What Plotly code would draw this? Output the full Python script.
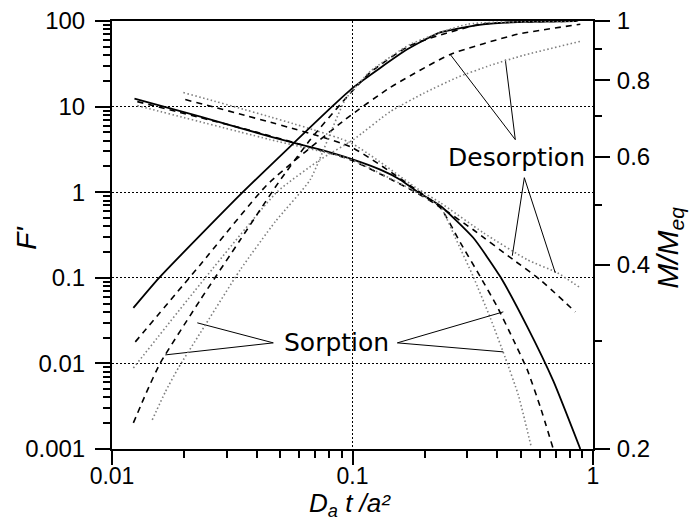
import plotly.graph_objects as go
import numpy as np

# ---- data ----
# F' curves (left axis)
fs_x = [0.0124, 0.0233, 0.0455, 0.0735, 0.0979, 0.1305, 0.158, 0.186, 0.2317, 0.3179, 0.4118, 0.5332, 0.6838, 0.8857]
fs_y = [12.41, 7.64, 4.46, 3.14, 2.465, 1.833, 1.40, 1.013, 0.695, 0.2935, 0.1027, 0.0267, 0.00624, 0.001]

fsd_x = [0.01274, 0.0402, 0.0979, 0.186, 0.2317, 0.2808, 0.3400, 0.4000, 0.4663, 0.5332, 0.6038, 0.6838]
fsd_y = [11.44, 5.0, 2.40, 0.975, 0.659, 0.257, 0.1027, 0.0458, 0.0189, 0.0084, 0.0031, 0.001]

fsp_x = [0.01274, 0.0455, 0.0979, 0.186, 0.2317, 0.2676, 0.3179, 0.3741, 0.4319, 0.489, 0.554]
fsp_y = [10.27, 4.11, 2.43, 0.987, 0.677, 0.2935, 0.1027, 0.0340, 0.0116, 0.00428, 0.00105]

fdd_x = [0.02017, 0.0979, 0.186, 0.2252, 0.3179, 0.4663, 0.6038, 0.8442]
fdd_y = [12.08, 3.40, 1.05, 0.714, 0.364, 0.1624, 0.0947, 0.0400]

fdp_x = [0.0198, 0.0979, 0.186, 0.2317, 0.3499, 0.5332, 0.7106, 0.8857]
fdp_y = [14.58, 3.79, 1.10, 0.754, 0.336, 0.1624, 0.1144, 0.0764]

# M/Meq curves (right axis)
ms_x = [0.01227, 0.01573, 0.0348, 0.0824, 0.1008, 0.169, 0.2317, 0.350, 0.4845, 0.844]
ms_y = [0.340, 0.381, 0.5244, 0.7253, 0.7791, 0.8989, 0.9583, 0.9877, 0.9962, 0.9995]

mdd_x = [0.0125, 0.0233, 0.0442, 0.0934, 0.1436, 0.2551, 0.4845, 0.8857]
mdd_y = [0.2992, 0.4000, 0.5405, 0.6907, 0.7791, 0.8820, 0.9511, 0.9877]

mdp_x = [0.01227, 0.02443, 0.0487, 0.0735, 0.1008, 0.1436, 0.197, 0.2728, 0.3741, 0.5132, 0.8857]
mdp_y = [0.2712, 0.3808, 0.5263, 0.5939, 0.640, 0.7114, 0.7615, 0.8090, 0.8464, 0.8788, 0.9264]

msd_x = [0.01227, 0.01388, 0.01588, 0.0233, 0.03416, 0.0492, 0.0667, 0.0890, 0.1186, 0.1739, 0.340, 0.8857]
msd_y = [0.2206, 0.2470, 0.2764, 0.3505, 0.4393, 0.5446, 0.640, 0.7308, 0.8243, 0.9125, 0.9877, 0.9995]

msp_x = [0.0147, 0.01666, 0.01887, 0.0233, 0.03416, 0.04775, 0.0667, 0.0934, 0.1186, 0.1739, 0.3002, 0.8857]
msp_y = [0.2231, 0.2479, 0.2712, 0.3096, 0.3925, 0.4703, 0.5508, 0.7446, 0.8274, 0.9160, 0.9877, 0.9995]

# label leader lines (data coords on left axis)
lab_text = ["Desorption", "Sorption"]
lab_x = [0.4799, 0.0857]
lab_y = [2.53, 0.01737]
lead_x = [0.2551, 0.4753, 0.4319, None, 0.4618, 0.5182, 0.6968, None,
          0.02263, 0.04685, 0.01666, None, 0.4238, 0.1536, 0.4238]
lead_y = [40.6, 4.11, 35.45, None, 0.181, 1.477, 0.1144, None,
          0.02977, 0.01737, 0.01257, None, 0.0400, 0.01737, 0.01363]

BLACK = "black"
GRAY = "#7f7f7f"
DASH = "6px,5px"
DOT = "1.5px,2.5px"

fig = go.Figure()

def add(x, y, color, dash, width, axis="y"):
    fig.add_trace(go.Scatter(x=x, y=y, mode="lines", yaxis=axis,
                             line=dict(color=color, dash=dash, width=width, shape="spline", smoothing=0.5),
                             showlegend=False, hoverinfo="skip"))

add(fs_x, fs_y, BLACK, "solid", 1.8)
add(fsd_x, fsd_y, BLACK, DASH, 1.6)
add(fsp_x, fsp_y, GRAY, DOT, 1.6)
add(fdd_x, fdd_y, BLACK, DASH, 1.6)
add(fdp_x, fdp_y, GRAY, DOT, 1.6)
add(ms_x, ms_y, BLACK, "solid", 1.8, "y2")
add(mdd_x, mdd_y, BLACK, DASH, 1.6, "y2")
add(mdp_x, mdp_y, GRAY, DOT, 1.6, "y2")
add(msd_x, msd_y, BLACK, DASH, 1.6, "y2")
add(msp_x, msp_y, GRAY, DOT, 1.6, "y2")

fig.add_trace(go.Scatter(x=lead_x, y=lead_y, mode="lines", line=dict(color=BLACK, width=1),
                         showlegend=False, hoverinfo="skip"))
for t, x, y in zip(lab_text, lab_x, lab_y):
    fig.add_annotation(x=np.log10(x), y=np.log10(y), xref="x", yref="y", text=t,
                       showarrow=False, font=dict(family="DejaVu Sans", size=25, color=BLACK))

FONT = "Liberation Sans, Arial, sans-serif"

# axis titles placed as paper-anchored texts
titles = [
    dict(text="<i>D<sub>a</sub> t /a²</i>", x=0.4948, y=-0.1729, angle=0, size=26, ya="bottom"),
    dict(text="<i>F'</i>", x=-0.177, y=0.493, angle=-90, size=28, ya="middle"),
    dict(text="<i>M/M<sub>eq</sub></i>", x=1.16, y=0.47, angle=-90, size=30, ya="middle"),
]
for t in titles:
    fig.add_annotation(xref="paper", yref="paper", x=t["x"], y=t["y"], text=t["text"],
                       textangle=t["angle"], showarrow=False, xanchor="center", yanchor=t["ya"],
                       font=dict(family=FONT, size=t["size"], color=BLACK))

x_ticks = [0.01, 0.1, 1]
x_minor = [m * d for d in [0.01, 0.1] for m in range(2, 10)]
y_ticks = [0.001, 0.01, 0.1, 1, 10, 100]
y_labels = ["0.001", "0.01", "0.1", "1", "10", "100"]
y_minor = [m * d for d in [0.001, 0.01, 0.1, 1, 10] for m in range(2, 10)]
y2_ticks = [0.2, 0.4, 0.6, 0.8, 1]
y2_minor = [0.3, 0.5, 0.7, 0.9]

fig.update_layout(
    width=689, height=524,
    margin=dict(l=112, r=96, t=21, b=75, autoexpand=False),
    paper_bgcolor="white", plot_bgcolor="white",
    font=dict(family=FONT, size=24, color=BLACK),
    xaxis=dict(type="log", range=[-2, 0], tickvals=x_ticks, ticktext=["0.01", "0.1", "1"],
               tickfont=dict(size=23),
               ticks="outside", ticklen=14, tickwidth=2, tickcolor=BLACK,
               showline=True, linewidth=2, linecolor=BLACK, mirror=True,
               showgrid=True, gridcolor=BLACK, griddash="2px,2px", gridwidth=1,
               minor=dict(tickvals=x_minor, ticks="outside", ticklen=7, tickwidth=2, tickcolor=BLACK, showgrid=False),
               automargin=False, ticklabelstandoff=-9, zeroline=False),
    yaxis=dict(type="log", range=[-3, 2], tickvals=y_ticks, ticktext=y_labels,
               ticks="outside", ticklen=15, tickwidth=2, tickcolor=BLACK,
               showline=True, linewidth=2, linecolor=BLACK,
               showgrid=True, gridcolor=BLACK, griddash="2px,2px", gridwidth=1,
               minor=dict(tickvals=y_minor, ticks="outside", ticklen=7, tickwidth=2, tickcolor=BLACK, showgrid=False),
               automargin=False, ticklabelstandoff=5, zeroline=False),
    yaxis2=dict(type="log", range=[np.log10(0.2), 0], overlaying="y", side="right",
                tickvals=y2_ticks, ticktext=["0.2", "0.4", "0.6", "0.8", "1"],
                ticks="outside", ticklen=15, tickwidth=2, tickcolor=BLACK,
                showline=True, linewidth=2, linecolor=BLACK, showgrid=False,
                minor=dict(tickvals=y2_minor, ticks="outside", ticklen=7, tickwidth=2, tickcolor=BLACK, showgrid=False),
                automargin=False, ticklabelstandoff=2, zeroline=False),
)

fig.write_html("out.html")
